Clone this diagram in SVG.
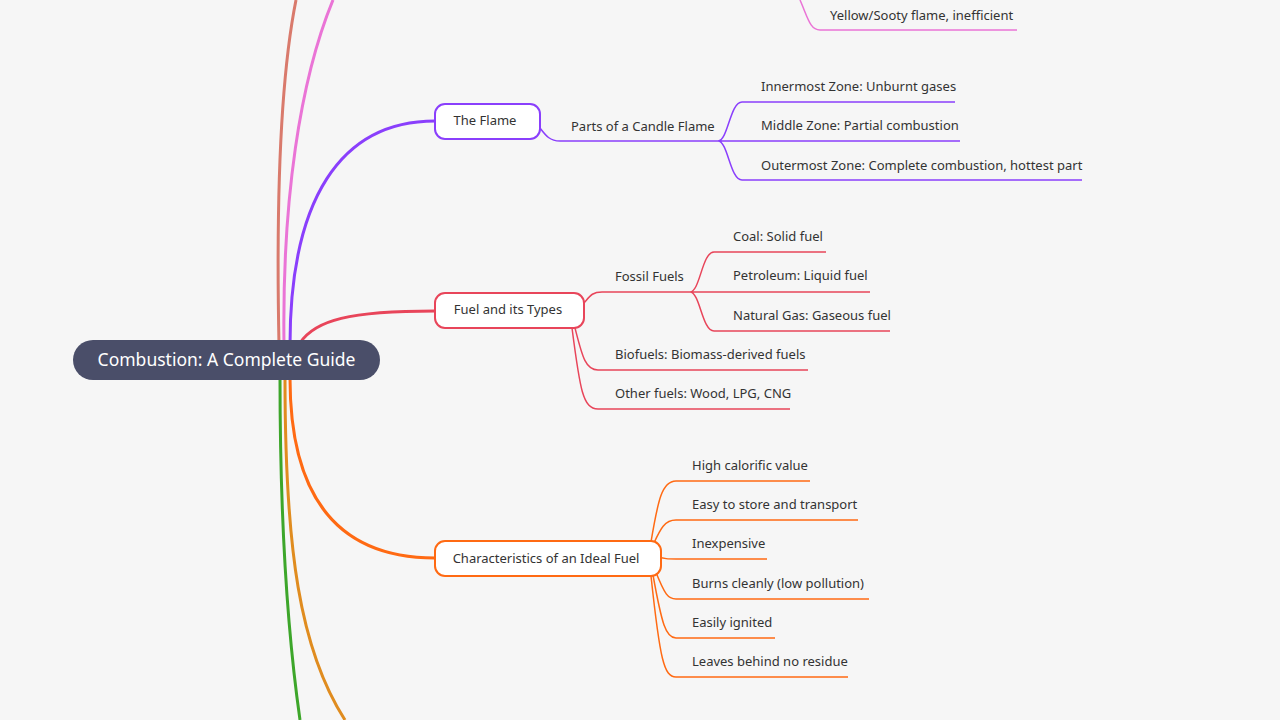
<svg xmlns="http://www.w3.org/2000/svg" width="1280" height="720" viewBox="0 0 1280 720">
<style>
text{font-family:"Noto Sans","Liberation Sans",sans-serif;font-size:13px;fill:#333}
.b{fill:none;stroke-width:3}
.s{fill:none;stroke-width:1.5}
.n{fill:#fff;stroke-width:2}
</style>
<rect width="1280" height="720" fill="#f6f6f6"/>
<g id="connectors">
<path class="b" stroke="#d97a6c" d="M279,345 C276,200 280,80 296,0"/>
<path class="b" stroke="#ea74d6" d="M284,345 C282,200 300,80 333,0"/>
<path class="b" stroke="#8a3ffc" d="M290,345 C290,200 340,121 435,121"/>
<path class="b" stroke="#e8455a" d="M300,343 C315,320 350,311 435,311"/>
<path class="b" stroke="#ff6a13" d="M290,378 C290,500 340,558 435,558"/>
<path class="b" stroke="#e08c1f" d="M285,378 C285,550 300,650 345,720"/>
<path class="b" stroke="#3da62a" d="M280,378 C280,550 290,650 300,720"/>
<path class="s" stroke="#ea74d6" d="M800,0 C808,18 810,30 820,30 L1017,30"/>
<path class="s" stroke="#8a3ffc" d="M540,128 C546,136 550,141 560,141 L718,141 M718,141 C728,141 730,102 742,102 L955,102 M718,141 L960,141 M718,141 C728,141 730,180 742,180 L1082,180"/>
<path class="s" stroke="#e8455a" d="M584,303 C590,296 592,292 602,292 L690,292 M690,292 C700,292 702,252 714,252 L826,252 M690,292 L870,292 M690,292 C700,292 702,331 714,331 L890,331 M575,328 C582,355 585,370 598,370 L808,370 M572,328 C580,390 583,409 598,409 L790,409"/>
<path class="s" stroke="#ff6a13" d="M651,542 C658,500 662,481 676,481 L810,481 M653,545 C660,530 664,520 676,520 L858,520 M655,556 C665,559 668,559 676,559 L767,559 M655,570 C665,595 668,599 676,599 L869,599 M653,575 C662,625 666,638 676,638 L775,638 M651,576 C660,660 664,677 676,677 L848,677"/>
</g>
<g id="root"><rect x="73" y="340" width="307" height="40" rx="20" fill="#4a4e69"/><text x="226.5" y="366" text-anchor="middle" style="font-size:17.5px;fill:#fff">Combustion: A Complete Guide</text></g>
<g id="flame"><rect class="n" x="435" y="104" width="105" height="35" rx="10" stroke="#8a3ffc"/><text x="485" y="125" text-anchor="middle">The Flame</text></g>
<g id="fuel"><rect class="n" x="435" y="293" width="149" height="35" rx="10" stroke="#e8455a"/><text x="508" y="314" text-anchor="middle">Fuel and its Types</text></g>
<g id="ideal"><rect class="n" x="435" y="541" width="226" height="35" rx="10" stroke="#ff6a13"/><text x="546" y="563" text-anchor="middle">Characteristics of an Ideal Fuel</text></g>
<g id="labels">
<text x="830" y="20">Yellow/Sooty flame, inefficient</text>
<text x="571" y="131">Parts of a Candle Flame</text>
<text x="761" y="91">Innermost Zone: Unburnt gases</text>
<text x="761" y="130">Middle Zone: Partial combustion</text>
<text x="761" y="170">Outermost Zone: Complete combustion, hottest part</text>
<text x="615" y="281">Fossil Fuels</text>
<text x="733" y="241">Coal: Solid fuel</text>
<text x="733" y="280">Petroleum: Liquid fuel</text>
<text x="733" y="320">Natural Gas: Gaseous fuel</text>
<text x="615" y="359">Biofuels: Biomass-derived fuels</text>
<text x="615" y="398">Other fuels: Wood, LPG, CNG</text>
<text x="692" y="470">High calorific value</text>
<text x="692" y="509">Easy to store and transport</text>
<text x="692" y="548">Inexpensive</text>
<text x="692" y="588">Burns cleanly (low pollution)</text>
<text x="692" y="627">Easily ignited</text>
<text x="692" y="666">Leaves behind no residue</text>
</g>
</svg>
